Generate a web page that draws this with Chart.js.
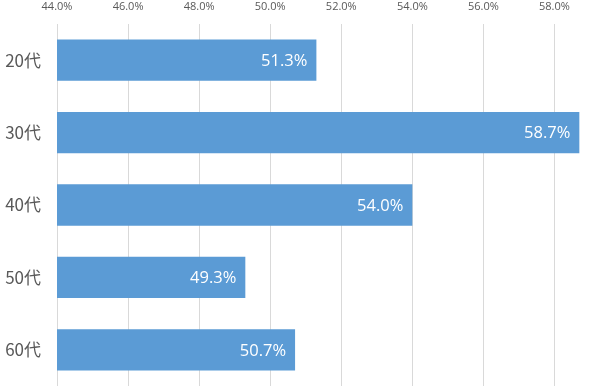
<!DOCTYPE html>
<html>
<head>
<meta charset="utf-8">
<script src="https://cdn.jsdelivr.net/npm/chart.js@4/dist/chart.umd.min.js"></script>
<style>
  html, body { margin: 0; padding: 0; background: #fff; }
  #wrap { width: 600px; height: 391px; }
</style>
</head>
<body>
<div id="wrap"><canvas id="chart"></canvas></div>
<script>
const categories = ["20代", "30代", "40代", "50代", "60代"];
const values = [51.3, 58.7, 54.0, 49.3, 50.7];
const axisMin = 44;
const axisMax = 59;

const barLabels = {
  id: "barLabels",
  afterDatasetsDraw(chart) {
    const ctx = chart.ctx;
    const meta = chart.getDatasetMeta(0);
    ctx.save();
    ctx.font = "16.5px 'Open Sans', 'Noto Sans', sans-serif";
    ctx.fillStyle = "#ffffff";
    ctx.textAlign = "right";
    ctx.textBaseline = "middle";
    meta.data.forEach((bar, i) => {
      ctx.fillText(values[i].toFixed(1) + "%", bar.x - 9, bar.y + 1);
    });
    ctx.restore();
  }
};

const ctx = document.getElementById("chart").getContext("2d");
new Chart(ctx, {
  type: "bar",
  data: {
    labels: categories,
    datasets: [
      {
        data: values,
        backgroundColor: "#5B9BD5",
        borderWidth: 0,
        barPercentage: 0.57,
        categoryPercentage: 1.0,
      },
    ],
  },
  options: {
    indexAxis: "y",
    responsive: true,
    maintainAspectRatio: false,
    animation: false,
    layout: { padding: { left: 0, right: 10, top: 0, bottom: 5 } },
    plugins: {
      legend: { display: false },
      tooltip: { enabled: false },
    },
    scales: {
      x: {
        position: "top",
        min: axisMin,
        max: axisMax,
        border: { display: false },
        grid: { color: "#D9D9D9", drawTicks: false },
        afterFit: (scale) => { scale.height = 24; },
        ticks: {
          stepSize: 2,
          includeBounds: false,
          padding: 11,
          color: "#595959",
          font: { family: "'Open Sans', 'Noto Sans', sans-serif", size: 11 },
          callback: (v) => v.toFixed(1) + "%",
        },
      },
      y: {
        border: { display: false },
        grid: { display: false },
        afterFit: (scale) => {
          scale.width = 57;
          scale.paddingTop = 0;
          scale.paddingBottom = 0;
        },
        ticks: {
          padding: 8,
          color: "#595959",
          font: { family: "'Noto Sans CJK JP', 'Noto Sans', sans-serif", size: 17 },
        },
      },
    },
  },
  plugins: [barLabels],
});
</script>
</body>
</html>
